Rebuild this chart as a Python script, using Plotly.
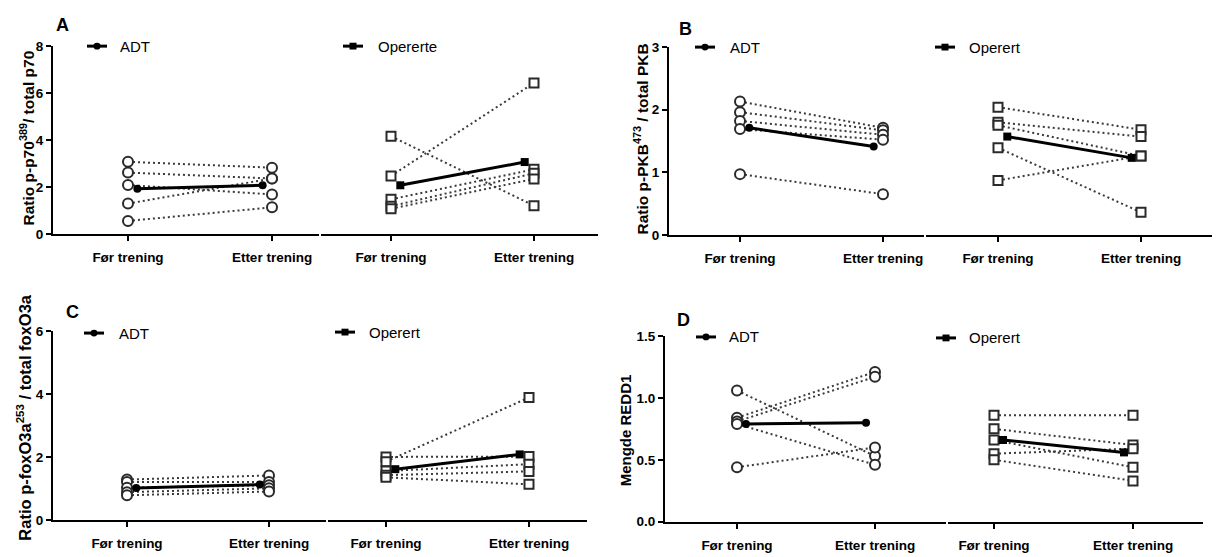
import plotly.graph_objects as go

# ---------------- data ----------------
categories = ["Før trening", "Etter trening"]

A_adt_pre = [3.07, 2.61, 2.08, 1.29, 0.55]
A_adt_post = [2.82, 2.36, 1.68, 2.36, 1.13]
A_op_pre = [4.16, 2.47, 1.47, 1.18, 1.07]
A_op_post = [1.20, 6.43, 2.75, 2.58, 2.34]
A_adt_mean = [1.92, 2.07]
A_op_mean = [2.07, 3.06]

B_adt_pre = [2.13, 1.96, 1.82, 1.69, 0.97]
B_adt_post = [1.71, 1.67, 1.60, 1.52, 0.65]
B_op_pre = [2.04, 1.80, 1.75, 1.39, 0.87]
B_op_post = [1.68, 1.57, 1.26, 0.36, 1.26]
B_adt_mean = [1.71, 1.41]
B_op_mean = [1.57, 1.23]

C_adt_pre = [1.28, 1.20, 1.02, 0.88, 0.78]
C_adt_post = [1.41, 1.20, 1.10, 1.00, 0.90]
C_op_pre = [2.00, 1.85, 1.55, 1.42, 1.35]
C_op_post = [2.01, 3.89, 1.77, 1.54, 1.13]
C_adt_mean = [1.01, 1.12]
C_op_mean = [1.61, 2.08]

D_adt_pre = [1.06, 0.84, 0.81, 0.79, 0.44]
D_adt_post = [0.53, 1.21, 1.17, 0.46, 0.60]
D_op_pre = [0.86, 0.75, 0.66, 0.55, 0.50]
D_op_post = [0.86, 0.62, 0.44, 0.59, 0.33]
D_adt_mean = [0.79, 0.80]
D_op_mean = [0.66, 0.56]

A_yticks = [0, 2, 4, 6, 8]
A_yticktext = ["0", "2", "4", "6", "8"]
B_yticks = [0, 1, 2, 3]
B_yticktext = ["0", "1", "2", "3"]
C_yticks = [0, 2, 4, 6]
C_yticktext = ["0", "2", "4", "6"]
D_yticks = [0, 0.5, 1.0, 1.5]
D_yticktext = ["0.0", "0.5", "1.0", "1.5"]

# ---------------- geometry / style ----------------
# the page body has an 8px default margin, so the figure starts at (8, 8) on screen
OFF = 8
W, H = 1220 - OFF, 557 - OFF
FONT = "Liberation Sans, Arial, sans-serif"
MEAN_OFF = 0.065


def px(x):
    return (x - OFF) / W


def py(y):
    return 1 - (y - OFF) / H


panels = [
    dict(letter="A", letter_pos=(62, 18),
         ytitle="<b>Ratio p-p70<sup>389</sup>/ total p70</b>", ytitle_pos=(27, 135), ytitle_size=15.5,
         ymax=8, yticks=A_yticks, yticktext=A_yticktext,
         ybot=233, ytop=40, left_dom=(53, 319), right_dom=(321, 598),
         left_ticks=(128, 272), right_ticks=(391, 534),
         adt=(A_adt_pre, A_adt_post, A_adt_mean), op=(A_op_pre, A_op_post, A_op_mean),
         op_label="Opererte",
         leg_adt=(87, 107, 40, 118), leg_op=(343, 363, 40, 376)),
    dict(letter="B", letter_pos=(685, 22),
         ytitle="<b>Ratio p-PKB<sup>473</sup> / total PKB</b>", ytitle_pos=(641, 136), ytitle_size=15.5,
         ymax=3, yticks=B_yticks, yticktext=B_yticktext,
         ybot=234, ytop=41, left_dom=(669, 924), right_dom=(926, 1213),
         left_ticks=(740, 883), right_ticks=(998, 1141),
         adt=(B_adt_pre, B_adt_post, B_adt_mean), op=(B_op_pre, B_op_post, B_op_mean),
         op_label="Operert",
         leg_adt=(695, 715, 41, 728), leg_op=(935, 955, 41, 967)),
    dict(letter="C", letter_pos=(72, 313),
         ytitle="<b>Ratio p-foxO3a<sup>253</sup> / total foxO3a</b>", ytitle_pos=(24, 422), ytitle_size=16.5,
         ymax=6, yticks=C_yticks, yticktext=C_yticktext,
         ybot=527, ytop=333, left_dom=(53, 326), right_dom=(328, 587),
         left_ticks=(127, 269), right_ticks=(386, 529),
         adt=(C_adt_pre, C_adt_post, C_adt_mean), op=(C_op_pre, C_op_post, C_op_mean),
         op_label="Operert",
         leg_adt=(84, 104, 335, 117), leg_op=(335, 355, 334, 367)),
    dict(letter="D", letter_pos=(683, 322),
         ytitle="<b>Mengde REDD1</b>", ytitle_pos=(625, 435), ytitle_size=15,
         ymax=1.5, yticks=D_yticks, yticktext=D_yticktext,
         ybot=529, ytop=338, left_dom=(665, 946), right_dom=(948, 1203),
         left_ticks=(737, 875), right_ticks=(994, 1133),
         adt=(D_adt_pre, D_adt_post, D_adt_mean), op=(D_op_pre, D_op_post, D_op_mean),
         op_label="Operert",
         leg_adt=(696, 716, 339, 727), leg_op=(936, 956, 340, 967)),
]

fig = go.Figure()
layout = dict(
    width=W, height=H, margin=dict(l=0, r=0, t=0, b=0),
    paper_bgcolor="white", plot_bgcolor="white", showlegend=False,
    font=dict(family=FONT, color="black"),
)
shapes = []
annotations = []

DOT_COLOR = "#3a3a3a"

for i, p in enumerate(panels):
    xl = f"x{2 * i + 1}"
    xr = f"x{2 * i + 2}"
    yid = f"y{i + 1}"
    xl_key = "xaxis" if 2 * i + 1 == 1 else f"xaxis{2 * i + 1}"
    xr_key = f"xaxis{2 * i + 2}"
    y_key = "yaxis" if i == 0 else f"yaxis{i + 1}"

    def xrange(dom, ticks):
        t0, t1 = ticks
        s = t1 - t0
        return [(dom[0] - t0) / s, (dom[1] - t0) / s]

    common_x = dict(
        tickmode="array", tickvals=[0, 1], ticktext=[f"<b>{c}</b>" for c in categories],
        showline=True, linewidth=2, linecolor="black", ticks="outside", ticklen=5,
        tickwidth=2, tickcolor="black", showgrid=False, zeroline=False,
        tickfont=dict(family=FONT, size=13.5, color="black"), anchor=yid,
        ticklabelstandoff=5, fixedrange=True,
    )
    layout[xl_key] = dict(common_x, domain=[px(p["left_dom"][0]), px(p["left_dom"][1])],
                          range=xrange(p["left_dom"], p["left_ticks"]))
    layout[xr_key] = dict(common_x, domain=[px(p["right_dom"][0]), px(p["right_dom"][1])],
                          range=xrange(p["right_dom"], p["right_ticks"]))
    layout[y_key] = dict(
        domain=[py(p["ybot"]), py(p["ytop"])], range=[0, p["ymax"]], anchor=xl,
        tickmode="array", tickvals=p["yticks"], ticktext=[f"<b>{t}</b>" for t in p["yticktext"]],
        showline=True, linewidth=2, linecolor="black", ticks="outside", ticklen=5,
        tickwidth=2, tickcolor="black", showgrid=False, zeroline=False,
        tickfont=dict(family=FONT, size=13.5, color="black"), fixedrange=True,
    )

    for grp, xa, symbol, msize, mean_symbol in (
        ("adt", xl, "circle", 10, "circle"),
        ("op", xr, "square", 9, "square"),
    ):
        pre, post, mean = p[grp]
        for a, b in zip(pre, post):
            fig.add_trace(go.Scatter(
                x=[0, 1], y=[a, b], mode="lines", xaxis=xa, yaxis=yid,
                line=dict(color=DOT_COLOR, width=2, dash="2px,3px"), hoverinfo="skip",
                cliponaxis=False,
            ))
        fig.add_trace(go.Scatter(
            x=[0] * len(pre) + [1] * len(post), y=list(pre) + list(post), mode="markers",
            xaxis=xa, yaxis=yid, cliponaxis=False,
            marker=dict(symbol=symbol, size=msize, color="white",
                        line=dict(color="#2a2a2a", width=2)),
        ))
        fig.add_trace(go.Scatter(
            x=[0 + MEAN_OFF, 1 - MEAN_OFF], y=mean, mode="lines+markers",
            xaxis=xa, yaxis=yid, cliponaxis=False,
            line=dict(color="black", width=3),
            marker=dict(symbol=mean_symbol, size=8, color="black"),
        ))

    # panel letter
    lx, ly = p["letter_pos"]
    annotations.append(dict(x=px(lx), y=py(ly), xref="paper", yref="paper", text=f"<b>{p['letter']}</b>",
                            showarrow=False, font=dict(family=FONT, size=18, color="black"),
                            xanchor="center", yanchor="middle"))
    # y title
    tx, ty = p["ytitle_pos"]
    annotations.append(dict(x=px(tx), y=py(ty), xref="paper", yref="paper", text=p["ytitle"],
                            textangle=-90, showarrow=False,
                            font=dict(family=FONT, size=p["ytitle_size"], color="black"),
                            xanchor="center", yanchor="middle"))
    # legends
    for (x0, x1, yy, xt), label, kind in ((p["leg_adt"], "ADT", "circle"),
                                          (p["leg_op"], p["op_label"], "square")):
        shapes.append(dict(type="line", xref="paper", yref="paper", x0=px(x0), x1=px(x1),
                           y0=py(yy), y1=py(yy), line=dict(color="black", width=3)))
        cx = (x0 + x1) / 2
        r = 3.5
        shapes.append(dict(type="circle" if kind == "circle" else "rect", xref="paper", yref="paper",
                           x0=px(cx - r), x1=px(cx + r), y0=py(yy + r), y1=py(yy - r),
                           fillcolor="black", line=dict(color="black", width=0)))
        annotations.append(dict(x=px(xt), y=py(yy), xref="paper", yref="paper", text=label,
                                showarrow=False, font=dict(family=FONT, size=15, color="black"),
                                xanchor="left", yanchor="middle"))

layout["shapes"] = shapes
layout["annotations"] = annotations
fig.update_layout(**layout)
fig.write_html("out.html")
